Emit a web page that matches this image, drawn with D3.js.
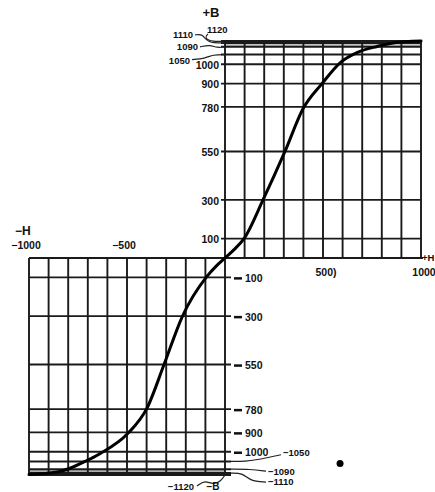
<!DOCTYPE html>
<html>
<head>
<meta charset="utf-8">
<script src="https://cdn.jsdelivr.net/npm/d3@7"></script>
<style>
  body { margin: 0; background: #fff; }
  text { font-family: "Liberation Sans Narrow", "Liberation Sans", Arial, sans-serif; font-weight: bold; fill: #111; }
</style>
</head>
<body>
<svg width="435" height="492"></svg>
<script>
// magnetisation curve, H (field) vs B (flux density)
var curveH = [-1000, -857, -791, -714, -638, -495, -398, -311, -219, -92, -45, 0, 45, 97, 194, 306, 398, 495, 590, 673, 776, 857, 1000];
var curveB = [-1118, -1105, -1085, -1050, -1010, -905, -775, -550, -305, -95, -42, 0, 42, 100, 300, 550, 770, 900, 1010, 1060, 1092, 1110, 1120];

// grid lines of the chart paper
var hGrid = [100, 200, 300, 400, 500, 600, 700, 800, 900, 1000];
var bGrid = [100, 300, 550, 780, 900, 1000, 1050, 1090, 1110, 1120];
var bPlain = [100, 300, 550, 780, 900, 1000];   // labels written straight on the axis
var hLabels = [-1000, -500, 500, 1000];
var hLabelText = ["\u22121000", "\u2212500", "500)", "1000"];

// ink blot on the scan
var blotH = [587], blotB = [-1060];

var svg = d3.select("svg");
var x = d3.scaleLinear().domain([-1000, 1000]).range([29, 421]);
var y = d3.scaleLinear().domain([-1120, 1120]).range([475, 41]);

var grid = svg.append("g").attr("stroke", "#1a1a1a").attr("stroke-width", 1.9);

// dense shaded bands near saturation
svg.insert("rect", "g")
  .attr("x", x(0)).attr("width", x(1000) - x(0))
  .attr("y", y(1120)).attr("height", y(1090) - y(1120))
  .attr("fill", "#c4c4c4");
svg.insert("rect", "g")
  .attr("x", x(-1000)).attr("width", x(0) - x(-1000))
  .attr("y", y(-1090)).attr("height", y(-1120) - y(-1090))
  .attr("fill", "#b0b0b0");

// upper right quadrant
hGrid.concat([0]).forEach(function(h) {
  grid.append("line").attr("x1", x(h)).attr("x2", x(h)).attr("y1", y(0)).attr("y2", y(1120));
});
bGrid.forEach(function(b) {
  grid.append("line").attr("x1", x(0) - 4).attr("x2", x(1000)).attr("y1", y(b)).attr("y2", y(b));
});
// lower left quadrant
hGrid.concat([0]).forEach(function(h) {
  grid.append("line").attr("x1", x(-h)).attr("x2", x(-h)).attr("y1", y(0)).attr("y2", y(-1120));
});
bGrid.forEach(function(b) {
  grid.append("line").attr("x1", x(-1000)).attr("x2", x(0) + 6).attr("y1", y(-b)).attr("y2", y(-b));
});
// H axis
grid.append("line").attr("x1", x(-1000)).attr("x2", x(1000) + 2).attr("y1", y(0)).attr("y2", y(0));

// the curve
var line = d3.line()
  .x(function(d) { return x(d[0]); })
  .y(function(d) { return y(d[1]); })
  .curve(d3.curveMonotoneX);

svg.append("path")
  .datum(d3.zip(curveH, curveB))
  .attr("fill", "none")
  .attr("stroke", "#000")
  .attr("stroke-width", 3)
  .attr("stroke-linecap", "round")
  .attr("d", line);

// B labels, upper half (left of axis)
bPlain.forEach(function(b) {
  svg.append("text")
    .attr("x", x(0) - 6).attr("y", y(b) + 1).attr("dy", "0.35em")
    .attr("text-anchor", "end").attr("font-size", 10.5)
    .text(b);
});
// B labels, lower half (right of axis, with a dash)
bPlain.forEach(function(b) {
  svg.append("line")
    .attr("x1", x(0) + 9).attr("x2", x(0) + 17)
    .attr("y1", y(-b) + 1).attr("y2", y(-b) + 1)
    .attr("stroke", "#111").attr("stroke-width", 2.5);
  svg.append("text")
    .attr("x", x(0) + 20).attr("y", y(-b) + 1).attr("dy", "0.35em")
    .attr("font-size", 10.5)
    .text(b);
});

// crowded labels with leader lines
var leader = d3.line().curve(d3.curveBasis);
var lead = svg.append("g").attr("fill", "none").attr("stroke", "#222").attr("stroke-width", 1.2);

function note(txt, tx, ty, anchor, pts) {
  svg.append("text").attr("x", tx).attr("y", ty).attr("dy", "0.35em")
    .attr("text-anchor", anchor).attr("font-size", 9.5).text(txt);
  lead.append("path").attr("d", leader(pts));
}
var x0 = x(0);
note("1050", x0 - 35, y(1050) + 6, "end", [[x0 - 33, y(1050) + 5], [x0 - 20, y(1050) + 4], [x0 - 12, y(1050)], [x0, y(1050)]]);
note("1090", x0 - 27, y(1090), "end", [[x0 - 25, y(1090)], [x0 - 15, y(1090) - 2], [x0 - 8, y(1090) + 1], [x0, y(1090)]]);
note("1110", x0 - 32, y(1110) - 8, "end", [[x0 - 30, y(1110) - 8], [x0 - 22, y(1110) - 9], [x0 - 18, y(1110)], [x0, y(1110)]]);
note("1120", x0 - 18, y(1120) - 11, "start", [[x0 - 17, y(1120) - 7], [x0 - 21, y(1120) - 3], [x0 - 12, y(1120) + 1], [x0, y(1120)]]);

note("\u22121050", x0 + 58, y(-1000) + 1, "start", [[x0 + 56, y(-1000) + 3], [x0 + 35, y(-1050) - 2], [x0 + 20, y(-1050)], [x0 + 6, y(-1050)]]);
note("\u22121090", x0 + 43, y(-1090) + 2, "start", [[x0 + 41, y(-1090) + 2], [x0 + 25, y(-1090)], [x0 + 6, y(-1090)]]);
note("\u22121110", x0 + 43, y(-1110) + 9, "start", [[x0 + 41, y(-1110) + 9], [x0 + 25, y(-1110) + 8], [x0 + 18, y(-1110)], [x0 + 6, y(-1110)]]);
note("\u22121120", x0 - 31, y(-1120) + 12, "end", [[x0 - 28, y(-1120) + 11], [x0 - 20, y(-1120) + 5], [x0 - 12, y(-1120) + 10], [x0 - 4, y(-1120) + 6], [x0, y(-1120)]]);

// H tick labels
hLabels.forEach(function(h, i) {
  var up = h < 0;
  svg.append("text")
    .attr("x", x(h) + (up ? -3 : 3)).attr("y", up ? y(0) - 9 : y(0) + 18)
    .attr("text-anchor", "middle").attr("font-size", 10.5)
    .text(hLabelText[i]);
});

// axis names
svg.append("text").attr("x", x(0) - 14).attr("y", 17).attr("text-anchor", "middle").attr("font-size", 13).text("+B");
svg.append("text").attr("x", x(0) - 12).attr("y", 490).attr("text-anchor", "middle").attr("font-size", 10).text("\u2212B");
svg.append("text").attr("x", 15).attr("y", y(0) - 23).attr("font-size", 12).text("\u2212H");
svg.append("text").attr("x", x(1000) + 1).attr("y", y(0) + 3).attr("font-size", 9.5).text("+H");

// blot
svg.selectAll(".blot").data(d3.zip(blotH, blotB)).enter().append("circle")
  .attr("class", "blot")
  .attr("cx", function(d) { return x(d[0]); })
  .attr("cy", function(d) { return y(d[1]); })
  .attr("r", 3.5).attr("fill", "#000");
</script>
</body>
</html>
